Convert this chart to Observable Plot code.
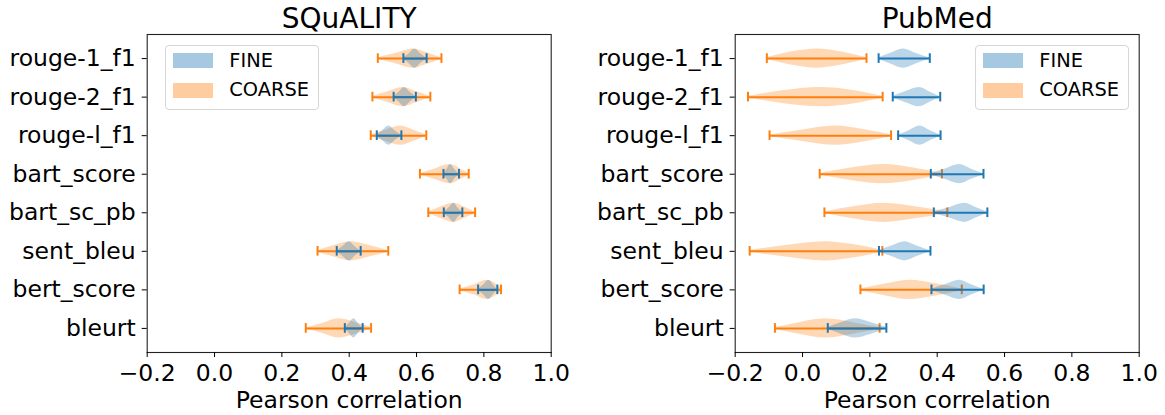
<!DOCTYPE html>
<html>
<head>
<meta charset="utf-8">
<script src="https://cdn.jsdelivr.net/npm/d3@7"></script>
<script src="https://cdn.jsdelivr.net/npm/@observablehq/plot@0.6"></script>
<style>
  html, body { margin: 0; padding: 0; background: #fff; }
  #wrap { position: relative; width: 1165px; height: 415px; font-family: "DejaVu Sans", sans-serif; }
  .panel { position: absolute; top: 0; }
  .legend { position: absolute; box-sizing: border-box; border: 1px solid #d6d6d6; border-radius: 4px; background: rgba(255,255,255,0.8); }
  .patch { position: absolute; width: 40px; height: 15px; }
  .ltext { position: absolute; font-size: 19.4px; line-height: 20px; color: #000; white-space: nowrap; }
</style>
</head>
<body>
<div id="wrap"></div>
<script>
// ---- data ----
const metrics = ["rouge-1_f1", "rouge-2_f1", "rouge-l_f1", "bart_score", "bart_sc_pb", "sent_bleu", "bert_score", "bleurt"];
const xTicks = [-0.2, 0.0, 0.2, 0.4, 0.6, 0.8, 1.0];
const groups = ["FINE", "COARSE"];
const titles = ["SQuALITY", "PubMed"];
const xLabel = "Pearson correlation";

// violin profiles: [correlation value, relative half-width] from min to max
const squalityFine = [
  [[0.561, 0.04], [0.578, 0.5], [0.595, 1], [0.612, 0.5], [0.630, 0.04]],
  [[0.532, 0.04], [0.548, 0.5], [0.564, 1], [0.581, 0.5], [0.598, 0.04]],
  [[0.482, 0.05], [0.500, 0.55], [0.518, 1], [0.536, 0.5], [0.555, 0.04]],
  [[0.680, 0.04], [0.690, 0.5], [0.701, 1], [0.713, 0.5], [0.726, 0.04]],
  [[0.681, 0.04], [0.696, 0.5], [0.711, 1], [0.723, 0.5], [0.736, 0.04]],
  [[0.363, 0.04], [0.381, 0.5], [0.400, 1], [0.417, 0.5], [0.434, 0.04]],
  [[0.783, 0.04], [0.799, 0.5], [0.815, 1], [0.828, 0.5], [0.840, 0.04]],
  [[0.387, 0.04], [0.400, 0.5], [0.414, 1], [0.427, 0.5], [0.440, 0.04]]
];
const squalityCoarse = [
  [[0.485, 0.06], [0.540, 0.55], [0.590, 1], [0.635, 0.55], [0.674, 0.06]],
  [[0.469, 0.06], [0.515, 0.55], [0.560, 1], [0.600, 0.55], [0.641, 0.06]],
  [[0.464, 0.06], [0.510, 0.6], [0.553, 1], [0.590, 0.6], [0.629, 0.06]],
  [[0.610, 0.06], [0.655, 0.55], [0.700, 1], [0.728, 0.6], [0.755, 0.08]],
  [[0.635, 0.08], [0.672, 0.6], [0.710, 1], [0.742, 0.6], [0.774, 0.08]],
  [[0.306, 0.06], [0.355, 0.6], [0.405, 1], [0.460, 0.6], [0.516, 0.06]],
  [[0.728, 0.08], [0.770, 0.5], [0.810, 1], [0.832, 0.7], [0.851, 0.2]],
  [[0.271, 0.05], [0.320, 0.5], [0.369, 1], [0.420, 0.6], [0.465, 0.1]]
];
const pubmedFine = [
  [[0.226, 0.06], [0.262, 0.55], [0.299, 1], [0.340, 0.5], [0.378, 0.05]],
  [[0.268, 0.06], [0.305, 0.55], [0.347, 1], [0.380, 0.5], [0.409, 0.05]],
  [[0.284, 0.06], [0.318, 0.55], [0.348, 1], [0.380, 0.5], [0.410, 0.05]],
  [[0.381, 0.06], [0.425, 0.55], [0.467, 1], [0.500, 0.55], [0.5375, 0.05]],
  [[0.390, 0.06], [0.437, 0.55], [0.482, 1], [0.515, 0.55], [0.549, 0.05]],
  [[0.227, 0.06], [0.265, 0.55], [0.304, 1], [0.340, 0.55], [0.380, 0.05]],
  [[0.383, 0.06], [0.425, 0.55], [0.467, 1], [0.500, 0.55], [0.538, 0.05]],
  [[0.075, 0.1], [0.115, 0.6], [0.157, 1], [0.200, 0.65], [0.249, 0.1]]
];
const pubmedCoarse = [
  [[-0.106, 0.08], [-0.030, 0.7], [0.044, 1], [0.120, 0.65], [0.190, 0.08]],
  [[-0.162, 0.08], [-0.060, 0.65], [0.053, 1], [0.150, 0.7], [0.238, 0.08]],
  [[-0.098, 0.08], [0.000, 0.6], [0.098, 1], [0.180, 0.65], [0.263, 0.08]],
  [[0.051, 0.08], [0.145, 0.65], [0.238, 1], [0.330, 0.65], [0.414, 0.08]],
  [[0.065, 0.08], [0.155, 0.65], [0.241, 1], [0.340, 0.6], [0.430, 0.08]],
  [[-0.157, 0.08], [-0.050, 0.6], [0.066, 1], [0.150, 0.7], [0.237, 0.1]],
  [[0.172, 0.08], [0.245, 0.6], [0.316, 1], [0.400, 0.6], [0.473, 0.08]],
  [[-0.082, 0.08], [-0.010, 0.6], [0.068, 1], [0.150, 0.6], [0.229, 0.08]]
];

const colors = { FINE: "#1f77b4", COARSE: "#ff7f0e" };
const HALF = 0.25;   // max violin half-width (in row units)
const CAP = 0.125;   // half-length of extrema caps

function bodyRows(profiles, g) {
  return profiles.flatMap((pts, i) => pts.map(([x, w]) => ({ pos: i + 1, x, w, key: g + i })));
}
function extRows(profiles) {
  return profiles.map((pts, i) => ({ pos: i + 1, lo: pts[0][0], hi: pts[pts.length - 1][0] }));
}
function capRows(profiles) {
  return extRows(profiles).flatMap(d => [{ pos: d.pos, x: d.lo }, { pos: d.pos, x: d.hi }]);
}

function violinMarks(profiles, g) {
  const c = colors[g];
  return [
    Plot.areaY(bodyRows(profiles, g), {
      x: "x", y1: d => d.pos - d.w * HALF, y2: d => d.pos + d.w * HALF, z: "key",
      curve: "monotone-x", fill: c, fillOpacity: 0.3
    }),
    Plot.ruleY(extRows(profiles), { y: "pos", x1: "lo", x2: "hi", stroke: c, strokeWidth: 2 }),
    Plot.ruleX(capRows(profiles), { x: "x", y1: d => d.pos - CAP, y2: d => d.pos + CAP, stroke: c, strokeWidth: 2 })
  ];
}

function panel(title, fine, coarse, width, ml, mr) {
  return Plot.plot({
    width, height: 415,
    marginTop: 34, marginBottom: 63, marginLeft: ml, marginRight: mr,
    style: { fontFamily: "DejaVu Sans, sans-serif", fontSize: "23.5px", color: "#000", background: "transparent" },
    x: { domain: [-0.2, 1.0] },
    y: { domain: [0.375, 8.625], reverse: true },
    marks: [
      ...violinMarks(coarse, "COARSE"),
      ...violinMarks(fine, "FINE"),
      Plot.frame({ stroke: "#222", strokeWidth: 1.1 }),
      Plot.axisX({ ticks: xTicks, tickFormat: d3.format(".1f"), tickSize: 5, tickPadding: 7, label: null }),
      Plot.axisY({ ticks: metrics.map((m, i) => i + 1), tickFormat: i => metrics[i - 1], tickSize: 5, tickPadding: 6.5, label: null }),
      Plot.text([title], { text: d => d, frameAnchor: "top", lineAnchor: "middle", dy: -15.7, fontSize: 28 }),
      Plot.text([xLabel], { text: d => d, frameAnchor: "bottom", lineAnchor: "middle", dy: 47.8, fontSize: 23.5 })
    ]
  });
}

const wrap = document.getElementById("wrap");
function place(el, left) {
  const d = document.createElement("div");
  d.className = "panel";
  d.style.left = left + "px";
  d.appendChild(el);
  wrap.appendChild(d);
}
place(panel(titles[0], squalityFine, squalityCoarse, 580, 146.7, 29.3), 0);
place(panel(titles[1], pubmedFine, pubmedCoarse, 585, 154.7, 26.3), 580);

function legend(left) {
  const box = document.createElement("div");
  box.className = "legend";
  box.style.left = left + "px";
  box.style.top = "45px";
  box.style.width = "153.5px";
  box.style.height = "64.5px";
  wrap.appendChild(box);
  groups.forEach((g, i) => {
    const p = document.createElement("div");
    p.className = "patch";
    p.style.left = (left + 7.5) + "px";
    p.style.top = (53.3 + i * 29.4) + "px";
    p.style.background = colors[g];
    p.style.opacity = 0.4;
    wrap.appendChild(p);
    const t = document.createElement("div");
    t.className = "ltext";
    t.textContent = g;
    t.style.left = (left + 64.3) + "px";
    t.style.top = (50.8 + i * 29.4) + "px";
    wrap.appendChild(t);
  });
}
legend(165);
legend(975);
</script>
</body>
</html>
